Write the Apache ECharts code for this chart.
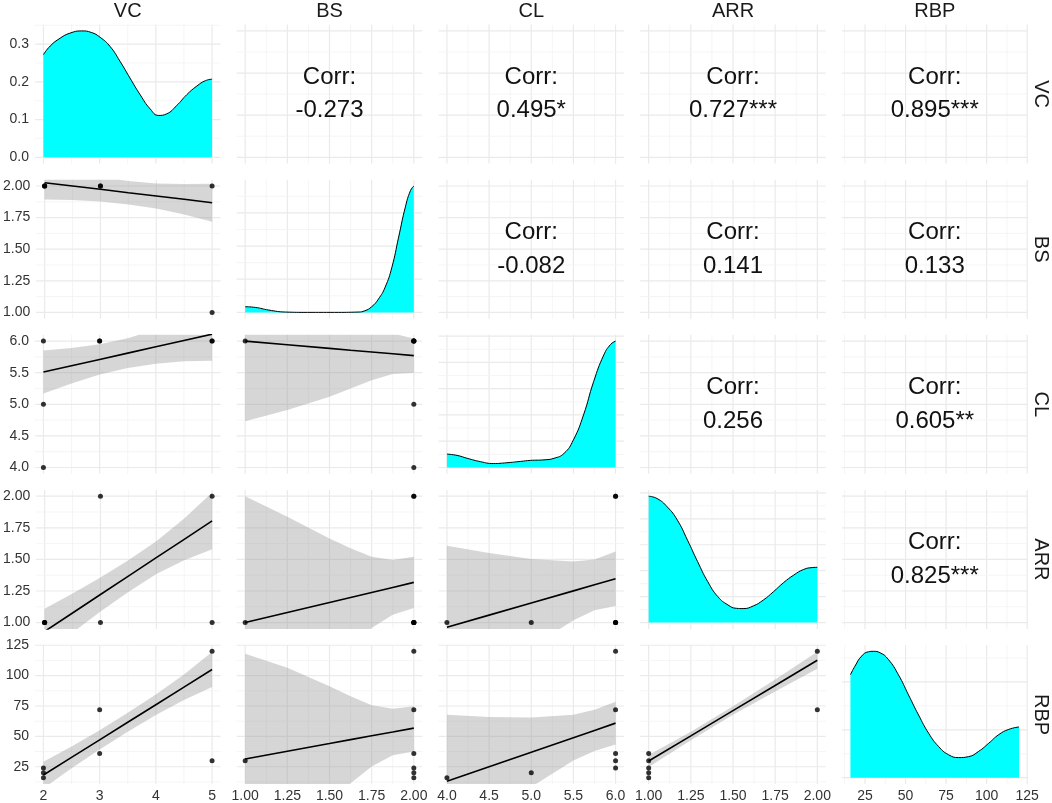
<!DOCTYPE html>
<html><head><meta charset="utf-8">
<script src="https://cdn.jsdelivr.net/npm/echarts@6/dist/echarts.min.js"></script>
<style>html,body{margin:0;padding:0;background:#fff}#c{width:1052px;height:803px}</style>
</head><body><div id="c"></div>
<script>
// ---------- data (unique observations) ----------
const varNames = ['VC', 'BS', 'CL', 'ARR', 'RBP'];
const VC  = [5, 5, 3, 3, 2, 2, 2];
const BS  = [1, 2, 2, 2, 2, 2, 2];
const CL  = [6, 6, 6, 6, 6, 5, 4];
const ARR = [1, 2, 2, 1, 1, 1, 1];
const RBP = [30, 120, 72, 36, 24, 20, 16];

// ---------- axis ticks ----------
const majorVC = [2, 3, 4, 5],               minorVC = [2.5, 3.5, 4.5];
const majorBS = [1, 1.25, 1.5, 1.75, 2],    minorBS = [1.125, 1.375, 1.625, 1.875];
const majorCL = [4, 4.5, 5, 5.5, 6],        minorCL = [4.25, 4.75, 5.25, 5.75];
const majorARR = [1, 1.25, 1.5, 1.75, 2],   minorARR = [1.125, 1.375, 1.625, 1.875];
const majorRBP = [25, 50, 75, 100, 125],    minorRBP = [12.5, 37.5, 62.5, 87.5, 112.5];
const rangeVC = [1.85, 5.15], rangeBS = [0.95, 2.05], rangeCL = [3.9, 6.1], rangeARR = [0.95, 2.05], rangeRBP = [10.8, 125.2];

// ---------- density curves ----------
const densVCx = [2.0, 2.12, 2.3, 2.47, 2.68, 2.85, 3.01, 3.19, 3.36, 3.54, 3.72, 3.9, 4.05, 4.19, 4.37, 4.55, 4.73, 4.88, 5.0];
const densVCy = [0.272, 0.295, 0.316, 0.329, 0.335, 0.331, 0.318, 0.293, 0.255, 0.21, 0.166, 0.128, 0.111, 0.115, 0.137, 0.166, 0.189, 0.203, 0.207];
const densBSx = [1.0, 1.06, 1.14, 1.24, 1.37, 1.53, 1.67, 1.71, 1.75, 1.79, 1.83, 1.87, 1.91, 1.95, 1.98, 2.0];
const densBSy = [0.17, 0.15, 0.07, 0.01, 0.0, 0.0, 0.01, 0.05, 0.17, 0.40, 0.76, 1.36, 2.27, 3.18, 3.67, 3.81];
const densCLx = [4.0, 4.12, 4.24, 4.40, 4.55, 4.71, 4.87, 4.99, 5.15, 5.27, 5.39, 5.50, 5.62, 5.74, 5.86, 5.94, 6.0];
const densCLy = [0.51, 0.46, 0.35, 0.22, 0.15, 0.18, 0.23, 0.27, 0.29, 0.35, 0.54, 1.05, 2.0, 3.27, 4.28, 4.68, 4.81];
const densARRx = [1.0, 1.05, 1.11, 1.17, 1.23, 1.29, 1.35, 1.41, 1.47, 1.52, 1.56, 1.62, 1.68, 1.74, 1.80, 1.86, 1.92, 1.97, 2.0];
const densARRy = [4.87, 4.78, 4.46, 3.95, 3.18, 2.35, 1.58, 1.0, 0.68, 0.55, 0.54, 0.64, 0.87, 1.19, 1.54, 1.83, 2.05, 2.12, 2.13];
const densRBPx = [16, 18.8, 22.9, 27.1, 30.2, 34.3, 39.4, 45.6, 51.8, 58.0, 64.2, 70.4, 76.5, 82.7, 88.9, 95.1, 101.3, 107.5, 113.7, 120];
const densRBPy = [2.15, 2.33, 2.54, 2.63, 2.64, 2.61, 2.47, 2.15, 1.73, 1.31, 0.93, 0.65, 0.48, 0.42, 0.44, 0.55, 0.72, 0.90, 1.01, 1.06];
// density axis ticks (panel's own scale)
const densVCmajor = [0, 0.1, 0.2, 0.3], densVCminor = [0.05, 0.15, 0.25, 0.35];
const densBSmajor = [0, 1, 2, 3],       densBSminor = [0.5, 1.5, 2.5, 3.5];
const densCLmajor = [0, 1, 2, 3, 4, 5], densCLminor = [0.5, 1.5, 2.5, 3.5, 4.5];
const densARRmajor = [0, 1, 2, 3, 4, 5], densARRminor = [0.5, 1.5, 2.5, 3.5, 4.5];
const densRBPmajor = [0, 1, 2],          densRBPminor = [0.5, 1.5, 2.5];

// ---------- linear fits with confidence bands ----------
const fitX_VC_BS = [2, 2.5, 3, 3.5, 4, 4.5, 5];
const fit_VC_BS = [2.026, 2.0, 1.974, 1.947, 1.921, 1.895, 1.868];
const lo_VC_BS  = [1.894, 1.89, 1.877, 1.854, 1.823, 1.775, 1.718];
const hi_VC_BS  = [2.158, 2.11, 2.071, 2.04, 2.019, 2.015, 2.018];

const fitX_VC_CL = [2, 2.5, 3, 3.5, 4, 4.5, 5];
const fit_VC_CL = [5.51, 5.61, 5.71, 5.81, 5.91, 6.01, 6.11];
const lo_VC_CL  = [5.17, 5.33, 5.47, 5.575, 5.64, 5.68, 5.69];
const hi_VC_CL  = [5.85, 5.89, 5.95, 6.045, 6.18, 6.34, 6.53];

const fitX_BS_CL = [1, 1.25, 1.5, 1.625, 1.75, 1.875, 2];
const fit_BS_CL = [6.0, 5.9425, 5.885, 5.856, 5.8275, 5.799, 5.77];
const lo_BS_CL  = [4.73, 4.91, 5.12, 5.25, 5.38, 5.48, 5.50];
const hi_BS_CL  = [7.27, 6.97, 6.65, 6.46, 6.28, 6.12, 6.04];

const fitX_VC_ARR = [2, 2.5, 3, 3.5, 4, 4.5, 5];
const fit_VC_ARR = [0.93, 1.076, 1.222, 1.368, 1.514, 1.659, 1.805];
const lo_VC_ARR  = [0.75, 0.921, 1.087, 1.243, 1.384, 1.494, 1.58];
const hi_VC_ARR  = [1.11, 1.231, 1.357, 1.493, 1.644, 1.824, 2.03];

const fitX_BS_ARR = [1, 1.25, 1.5, 1.625, 1.75, 1.875, 2];
const fit_BS_ARR = [1.0, 1.0795, 1.159, 1.199, 1.2385, 1.278, 1.318];
const lo_BS_ARR  = [0.0, 0.322, 0.652, 0.81, 0.957, 1.061, 1.116];
const hi_BS_ARR  = [2.0, 1.837, 1.666, 1.588, 1.52, 1.495, 1.52];

const fitX_CL_ARR = [4, 4.5, 5, 5.5, 5.75, 6];
const fit_CL_ARR = [0.963, 1.059, 1.155, 1.251, 1.299, 1.347];
const lo_CL_ARR  = [0.318, 0.568, 0.807, 1.018, 1.098, 1.131];
const hi_CL_ARR  = [1.608, 1.55, 1.503, 1.484, 1.50, 1.563];

const fitX_VC_RBP = [2, 2.5, 3, 3.5, 4, 4.5, 5];
const fit_VC_RBP = [18.2, 32.7, 47.1, 61.6, 76.0, 90.5, 105.0];
const lo_VC_RBP  = [7.2, 23.7, 39.1, 53.8, 67.6, 80.0, 90.6];
const hi_VC_RBP  = [29.2, 41.7, 55.1, 69.4, 84.4, 101.0, 119.4];

const fitX_BS_RBP = [1, 1.25, 1.5, 1.625, 1.75, 1.875, 2];
const fit_BS_RBP = [31.4, 37.75, 44.1, 47.3, 50.45, 53.6, 56.8];
const lo_BS_RBP  = [-55.3, -31, -3.1, 11.5, 25.3, 34.5, 37.5];
const hi_BS_RBP  = [118.1, 106.5, 91.3, 83.1, 75.6, 72.8, 74.7];

const fitX_CL_RBP = [4, 4.5, 5, 5.5, 5.75, 6];
const fit_CL_RBP = [13.1, 25.05, 37.0, 48.95, 54.9, 60.9];
const lo_CL_RBP  = [-41.6, -15.9, 8.4, 30.1, 37.9, 43.4];
const hi_CL_RBP  = [67.8, 66.0, 65.6, 67.8, 71.9, 78.4];

const fitX_ARR_RBP = [1, 1.25, 1.5, 1.75, 2];
const fit_ARR_RBP = [29.7, 50.4, 71.2, 91.9, 112.6];
const lo_ARR_RBP  = [24.7, 46.9, 67.7, 86.9, 105.6];
const hi_ARR_RBP  = [34.7, 53.9, 74.7, 96.9, 119.6];

// ---------- correlation labels ----------
const corrRow  = [0, 0, 0, 0, 1, 1, 1, 2, 2, 3];
const corrCol  = [1, 2, 3, 4, 2, 3, 4, 3, 4, 4];
const corrText = ['-0.273', '0.495*', '0.727***', '0.895***', '-0.082', '0.141', '0.133', '0.256', '0.605**', '0.825***'];

// ---------- assembly ----------
const values = [VC, BS, CL, ARR, RBP];
const majors = [majorVC, majorBS, majorCL, majorARR, majorRBP];
const minors = [minorVC, minorBS, minorCL, minorARR, minorRBP];
const ranges = [rangeVC, rangeBS, rangeCL, rangeARR, rangeRBP];
const decimals = [0, 2, 1, 2, 0];
const densX = [densVCx, densBSx, densCLx, densARRx, densRBPx];
const densY = [densVCy, densBSy, densCLy, densARRy, densRBPy];
const densMaj = [densVCmajor, densBSmajor, densCLmajor, densARRmajor, densRBPmajor];
const densMin = [densVCminor, densBSminor, densCLminor, densARRminor, densRBPminor];
const fits = {
  '1-0': [fitX_VC_BS, fit_VC_BS, lo_VC_BS, hi_VC_BS],
  '2-0': [fitX_VC_CL, fit_VC_CL, lo_VC_CL, hi_VC_CL],
  '2-1': [fitX_BS_CL, fit_BS_CL, lo_BS_CL, hi_BS_CL],
  '3-0': [fitX_VC_ARR, fit_VC_ARR, lo_VC_ARR, hi_VC_ARR],
  '3-1': [fitX_BS_ARR, fit_BS_ARR, lo_BS_ARR, hi_BS_ARR],
  '3-2': [fitX_CL_ARR, fit_CL_ARR, lo_CL_ARR, hi_CL_ARR],
  '4-0': [fitX_VC_RBP, fit_VC_RBP, lo_VC_RBP, hi_VC_RBP],
  '4-1': [fitX_BS_RBP, fit_BS_RBP, lo_BS_RBP, hi_BS_RBP],
  '4-2': [fitX_CL_RBP, fit_CL_RBP, lo_CL_RBP, hi_CL_RBP],
  '4-3': [fitX_ARR_RBP, fit_ARR_RBP, lo_ARR_RBP, hi_ARR_RBP]
};

const FONT = '"Liberation Sans", Arial, sans-serif';
const LEFT = [35, 236.75, 438.5, 640.25, 842], PW = 185.5;
const TOP = [24.6, 179.7, 334.8, 489.9, 645.0], PH = 139;

function densRange(arr) { const m = Math.max(...arr); return [-0.05 * m, 1.05 * m]; }

// Sutherland-Hodgman clip of polygon (pixel space) to rect
function clipPoly(pts, r) {
  const edges = [
    p => p[0] >= r.x, p => p[0] <= r.x + r.width,
    p => p[1] >= r.y, p => p[1] <= r.y + r.height
  ];
  const inter = [
    (a, b) => { const t = (r.x - a[0]) / (b[0] - a[0]); return [r.x, a[1] + t * (b[1] - a[1])]; },
    (a, b) => { const X = r.x + r.width, t = (X - a[0]) / (b[0] - a[0]); return [X, a[1] + t * (b[1] - a[1])]; },
    (a, b) => { const t = (r.y - a[1]) / (b[1] - a[1]); return [a[0] + t * (b[0] - a[0]), r.y]; },
    (a, b) => { const Y = r.y + r.height, t = (Y - a[1]) / (b[1] - a[1]); return [a[0] + t * (b[0] - a[0]), Y]; }
  ];
  let out = pts;
  for (let e = 0; e < 4; e++) {
    const inp = out; out = [];
    if (!inp.length) break;
    for (let i = 0; i < inp.length; i++) {
      const cur = inp[i], prev = inp[(i + inp.length - 1) % inp.length];
      const ci = edges[e](cur), pi = edges[e](prev);
      if (ci) { if (!pi) out.push(inter[e](prev, cur)); out.push(cur); }
      else if (pi) out.push(inter[e](prev, cur));
    }
  }
  return out;
}

const grids = [], xAxes = [], yAxes = [], series = [];
for (let r = 0; r < 5; r++) {
  for (let c = 0; c < 5; c++) {
    const i = r * 5 + c;
    grids.push({ left: LEFT[c], top: TOP[r], width: PW, height: PH, containLabel: false });
    const xr = ranges[c];
    const diag = r === c;
    const yr = diag ? densRange(densY[c]) : ranges[r];
    const yMaj = diag ? densMaj[c] : majors[r];
    const yMin = diag ? densMin[c] : minors[r];
    const xd = decimals[c];
    const yd = diag ? 1 : decimals[r];
    xAxes.push({
      gridIndex: i, type: 'value', min: xr[0], max: xr[1],
      axisLine: { show: false }, axisTick: { show: false }, splitLine: { show: false },
      axisLabel: {
        show: r === 4, customValues: majors[c], margin: 5,
        color: '#333', fontSize: 14, fontFamily: FONT,
        formatter: v => Number(v).toFixed(xd)
      }
    });
    yAxes.push({
      gridIndex: i, type: 'value', min: yr[0], max: yr[1],
      axisLine: { show: false }, axisTick: { show: false }, splitLine: { show: false },
      axisLabel: {
        show: c === 0, customValues: yMaj, margin: 6,
        color: '#333', fontSize: 14, fontFamily: FONT,
        formatter: v => Number(v).toFixed(yd)
      }
    });
    // grid lines
    const gl = [];
    majors[c].forEach(v => gl.push([v, 0, 1]));
    minors[c].forEach(v => gl.push([v, 0, 0]));
    yMaj.forEach(v => { if (v > yr[0] && v < yr[1]) gl.push([v, 1, 1]); });
    yMin.forEach(v => { if (v > yr[0] && v < yr[1]) gl.push([v, 1, 0]); });
    series.push({
      type: 'custom', xAxisIndex: i, yAxisIndex: i, silent: true, z: 0, animation: false,
      data: gl,
      renderItem: (p, api) => {
        const v = api.value(0), dir = api.value(1), maj = api.value(2);
        let a, b;
        if (dir === 0) { a = api.coord([v, yr[0]]); b = api.coord([v, yr[1]]); }
        else { a = api.coord([xr[0], v]); b = api.coord([xr[1], v]); }
        return { type: 'line', shape: { x1: a[0], y1: a[1], x2: b[0], y2: b[1] },
          style: { stroke: maj ? '#EAEAEA' : '#F2F2F2', lineWidth: maj ? 1.2 : 0.8 } };
      }
    });
    if (diag) {
      series.push({
        type: 'line', xAxisIndex: i, yAxisIndex: i, symbol: 'none', z: 2, animation: false,
        smooth: 0.5,
        data: densX[c].map((x, k) => [x, densY[c][k]]),
        lineStyle: { color: '#000', width: 1 },
        areaStyle: { color: '#00FFFF', opacity: 1 }
      });
    } else if (r > c) {
      const f = fits[r + '-' + c];
      const fx = f[0], fy = f[1], lo = f[2], hi = f[3];
      series.push({
        type: 'custom', xAxisIndex: i, yAxisIndex: i, silent: true, z: 1, animation: false,
        data: [[fx[0], fy[0]]],
        renderItem: (p, api) => {
          const pts = [];
          fx.forEach((x, k) => pts.push(api.coord([x, hi[k]])));
          for (let k = fx.length - 1; k >= 0; k--) pts.push(api.coord([fx[k], lo[k]]));
          const cs = p.coordSys;
          const clipped = clipPoly(pts, { x: cs.x, y: cs.y, width: cs.width, height: cs.height });
          return { type: 'polygon', shape: { points: clipped }, style: { fill: 'rgba(153,153,153,0.4)' } };
        }
      });
      series.push({
        type: 'line', xAxisIndex: i, yAxisIndex: i, symbol: 'none', z: 3, animation: false,
        data: fx.map((x, k) => [x, fy[k]]), clip: true,
        lineStyle: { color: '#000', width: 1.6 }
      });
      series.push({
        type: 'scatter', xAxisIndex: i, yAxisIndex: i, z: 4, animation: false,
        symbolSize: 5, itemStyle: { color: '#000' },
        data: values[c].map((x, k) => [x, values[r][k]])
      });
    }
  }
}

const graphics = [];
const txt = (x, y, s, size, color, rot) => ({
  type: 'text', x: x, y: y, rotation: rot || 0, silent: true, z: 100,
  style: { text: s, fontSize: size, fontFamily: FONT, fill: color, stroke: null, lineWidth: 0,
           align: 'center', verticalAlign: 'middle' }
});
corrText.forEach((t, k) => {
  const cx = LEFT[corrCol[k]] + PW / 2, cy = TOP[corrRow[k]] + PH / 2;
  graphics.push(txt(cx, cy - 16.7, 'Corr:', 24, '#111'));
  graphics.push(txt(cx, cy + 16.7, t, 24, '#111'));
});
varNames.forEach((n, k) => {
  graphics.push(txt(LEFT[k] + PW / 2, 11, n, 20, '#1A1A1A'));
  graphics.push(txt(1041, TOP[k] + PH / 2, n, 20, '#1A1A1A', -Math.PI / 2));
});

const chart = echarts.init(document.getElementById('c'));
chart.setOption({
  backgroundColor: '#fff',
  animation: false,
  grid: grids, xAxis: xAxes, yAxis: yAxes, series: series,
  graphic: graphics
});
</script></body></html>
